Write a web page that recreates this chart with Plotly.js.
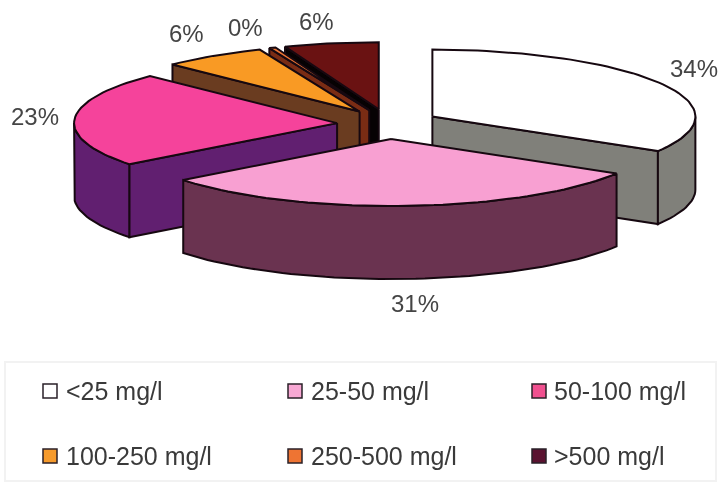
<!DOCTYPE html>
<html>
<head>
<meta charset="utf-8">
<script src="https://cdn.plot.ly/plotly-3.0.1.min.js"></script>
<style>html,body{margin:0;padding:0;background:#fff}#chart{width:720px;height:488px;filter:blur(0.45px)}</style>
</head>
<body>
<div id="chart"></div>
<script>
// ---- data ----
var categories = ['<25 mg/l', '25-50 mg/l', '50-100 mg/l', '100-250 mg/l', '250-500 mg/l', '>500 mg/l'];
var shares = [33.6, 30.9, 22.9, 6.4, 0.4, 5.8];

// ---- styles ----
var topColors  = ['#ffffff', '#f8a0d2', '#f5439b', '#f99a24', '#ee7433', '#6a1212'];
var wallColors = ['#80807a', '#6a3350', '#611f70', '#6a3c20', '#7a2c14', '#060203'];
var swatchColors = ['#ffffff', '#f8a8d4', '#f0508f', '#f59a2c', '#ee7433', '#5a1230'];

// ---- projection of the tilted, exploded pie ----
var cx = 388, cy = 124, rx = 263, ry = 67, depth = 73, explodeX = 51, explodeY = 15;
var outline = '#160810';
var total = shares.reduce(function (a, b) { return a + b; }, 0);

function rim(ax, ay, deg, dy) {
  var t = deg * Math.PI / 180;
  return [ax + rx * Math.sin(t), ay - ry * Math.cos(t) + (dy || 0)];
}
function face(pts, color) {
  return {
    type: 'scatter', mode: 'lines', x: pts.map(function (p) { return p[0]; }), y: pts.map(function (p) { return p[1]; }),
    fill: 'toself', fillcolor: color, line: { color: outline, width: 2, shape: 'linear' },
    hoverinfo: 'skip', showlegend: false
  };
}
function arc(ax, ay, a, b, dy) {
  var pts = [], n = Math.max(2, Math.ceil(Math.abs(b - a) / 2));
  for (var i = 0; i <= n; i++) pts.push(rim(ax, ay, a + (b - a) * i / n, dy));
  return pts;
}
function sliceTraces(i, a, b) {
  var mid = (a + b) / 2 * Math.PI / 180;
  var ax = cx + explodeX * Math.sin(mid), ay = cy - explodeY * Math.cos(mid);
  var out = [];
  var top = [ax, ay], low = [ax, ay + depth];
  if (Math.sin(a * Math.PI / 180) < -1e-6) {
    out.push(face([top, rim(ax, ay, a), rim(ax, ay, a, depth), low, top], wallColors[i]));
  }
  if (Math.sin(b * Math.PI / 180) > 1e-6) {
    out.push(face([top, rim(ax, ay, b), rim(ax, ay, b, depth), low, top], wallColors[i]));
  }
  var fa = Math.max(a, 90), fb = Math.min(b, 270);
  if (fb > fa) {
    var upper = arc(ax, ay, fa, fb, 0), lower = arc(ax, ay, fb, fa, depth);
    out.push(face(upper.concat(lower, [upper[0]]), wallColors[i]));
  }
  out.push(face([top].concat(arc(ax, ay, a, b, 0), [top]), topColors[i]));
  return out;
}

var bounds = [], acc = 0;
shares.forEach(function (v) { bounds.push([acc / total * 360, (acc + v) / total * 360]); acc += v; });

// painter's order: back slices first
var drawOrder = [5, 4, 3, 2, 0, 1];
var traces = [];
drawOrder.forEach(function (i) { traces = traces.concat(sliceTraces(i, bounds[i][0], bounds[i][1])); });

// ---- legend: swatch markers and real text ----
var legendX = [50, 295, 539], legendTextX = [64, 309, 552], legendY = [391, 456], textInk = '#3a3a3a';
categories.forEach(function (c, i) {
  traces.push({
    type: 'scatter', mode: 'markers', name: c,
    x: [legendX[i % 3]], y: [legendY[Math.floor(i / 3)]],
    marker: { symbol: 'square', size: 14, color: swatchColors[i], line: { color: '#2a2028', width: 1.5 } },
    hoverinfo: 'skip', showlegend: false, cliponaxis: false
  });
});
var legendNotes = categories.map(function (c, i) {
  return {
    xref: 'x', yref: 'y', x: legendTextX[i % 3], y: legendY[Math.floor(i / 3)], text: c.replace('<', '&lt;').replace('>', '&gt;'),
    showarrow: false, xanchor: 'left', yanchor: 'middle',
    font: { family: 'Liberation Sans, Arial, sans-serif', size: 25, color: textInk }
  };
});

// ---- percentage labels ----
var labelX = [694, 415, 35, 186, 245, 316], labelY = [68, 303, 116, 33, 27, 21];
var annotations = shares.map(function (v, i) {
  return {
    xref: 'x', yref: 'y', x: labelX[i], y: labelY[i], text: Math.round(v) + '%', showarrow: false,
    xanchor: 'center', yanchor: 'middle',
    font: { family: 'Liberation Sans, Arial, sans-serif', size: 24, color: '#454545' }
  };
}).concat(legendNotes);

var layout = {
  width: 720, height: 488, margin: { l: 0, r: 0, t: 0, b: 0 },
  paper_bgcolor: '#ffffff', plot_bgcolor: '#ffffff', showlegend: false,
  xaxis: { range: [0, 720], visible: false, fixedrange: true },
  yaxis: { range: [488, 0], visible: false, fixedrange: true },
  annotations: annotations,
  shapes: [{ type: 'rect', xref: 'x', yref: 'y', x0: 5, x1: 716, y0: 362, y1: 481, layer: 'below',
             fillcolor: '#ffffff', line: { color: '#f2f2f2', width: 2 } }]
};
Plotly.newPlot('chart', traces, layout, { staticPlot: true, displayModeBar: false });
</script>
</body>
</html>
